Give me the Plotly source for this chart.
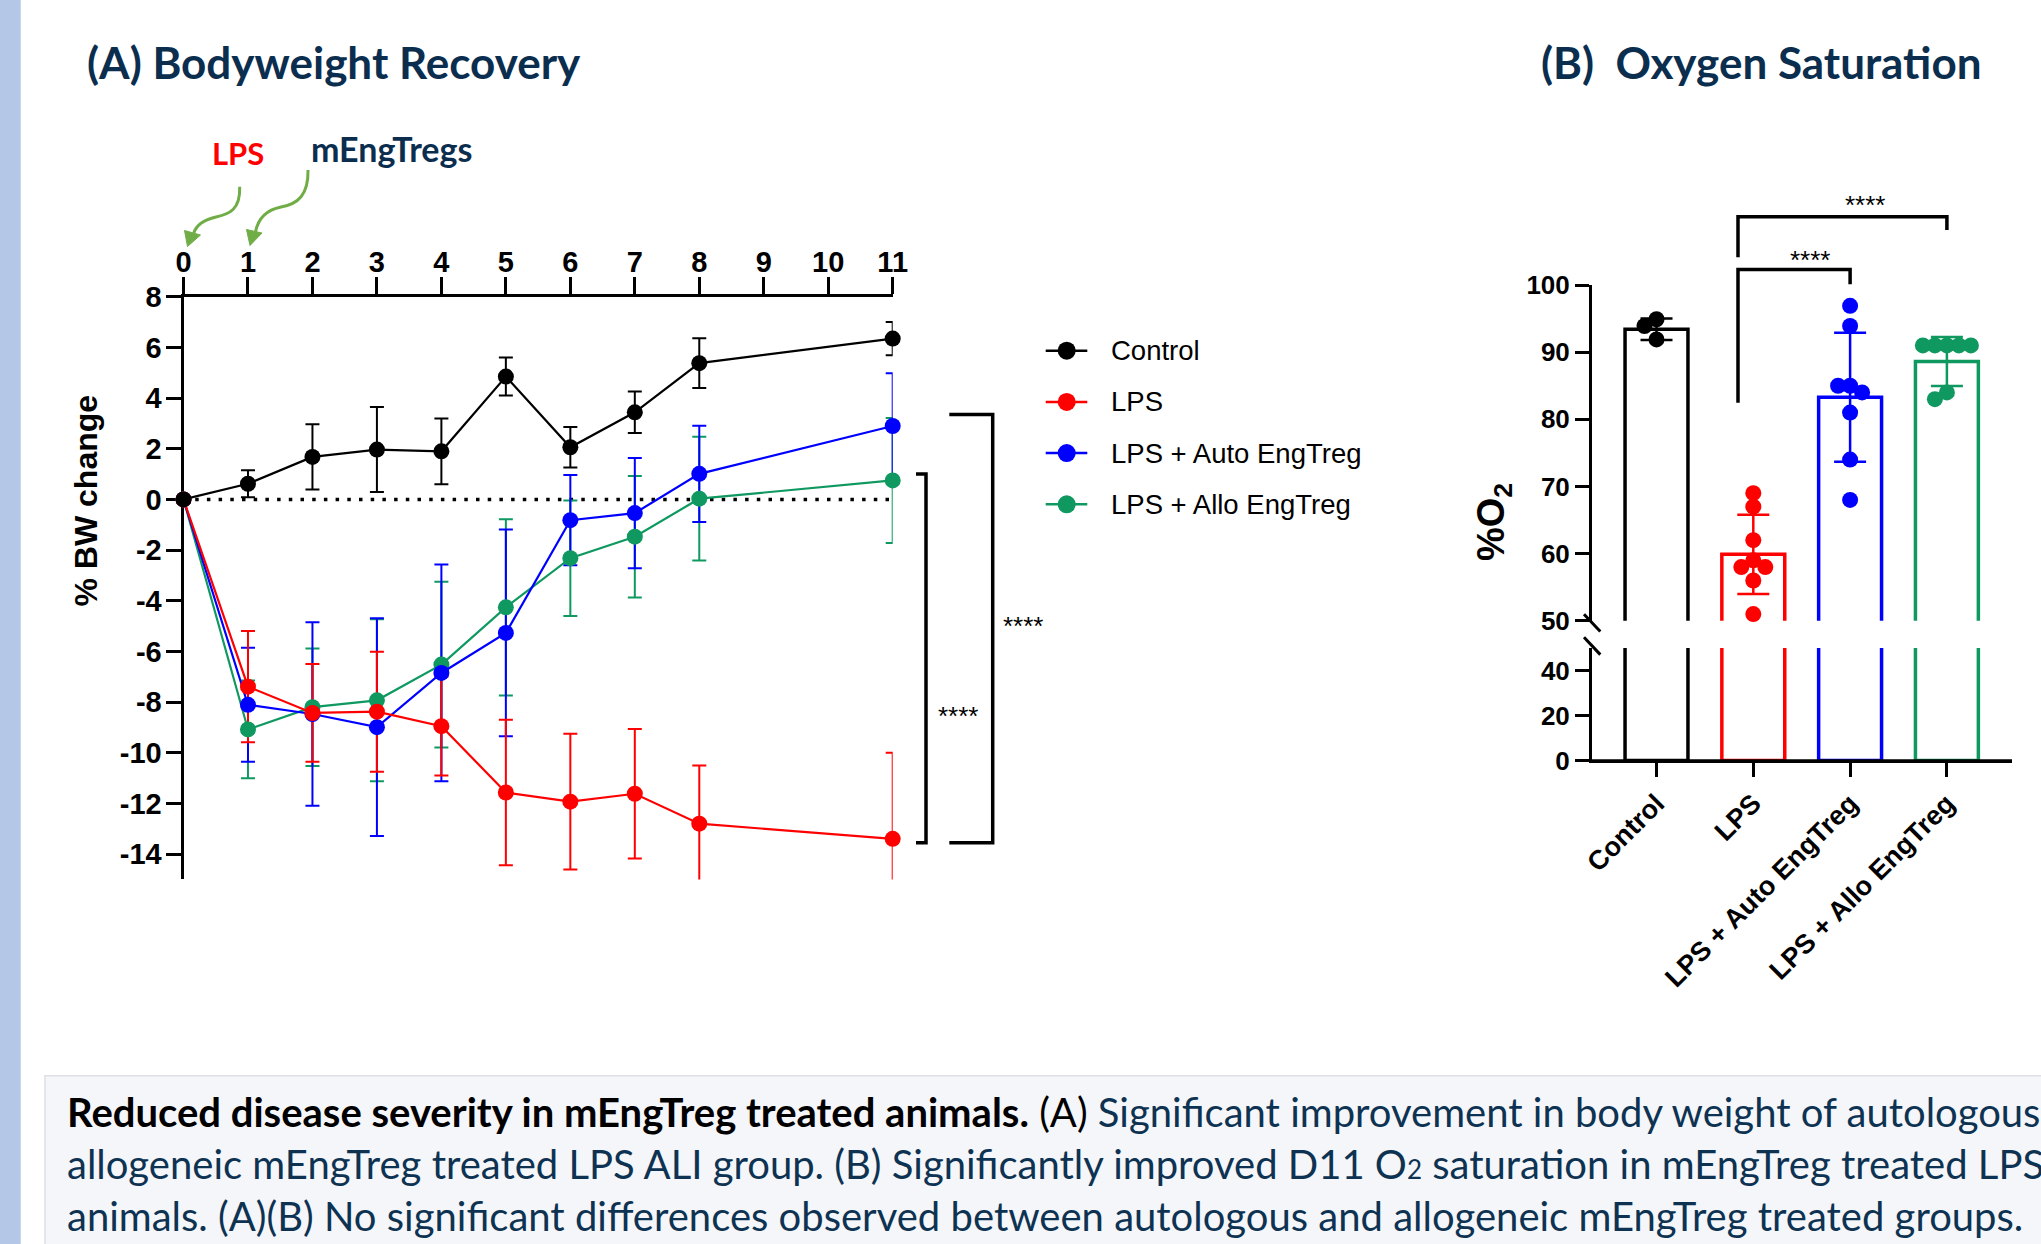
import numpy as np
import plotly.graph_objects as go

W, H = 2041, 1244

# ---------------- Panel A data: % bodyweight change ----------------
days = [0, 1, 2, 3, 4, 5, 6, 7, 8, 11]
control_mean = [0, 0.62, 1.68, 1.97, 1.90, 4.85, 2.06, 3.44, 5.38, 6.35]
control_sd = [0, 0.53, 1.29, 1.68, 1.30, 0.75, 0.80, 0.82, 0.98, 0.66]
lps_mean = [0, -7.39, -8.43, -8.38, -8.95, -11.57, -11.93, -11.62, -12.80, -13.40]
lps_sd = [0, 2.20, 1.93, 2.37, 1.95, 2.87, 2.68, 2.56, 2.30, 3.40]
auto_mean = [0, -8.11, -8.47, -8.99, -6.85, -5.27, -0.82, -0.54, 1.01, 2.90]
auto_sd = [0, 2.25, 3.62, 4.30, 4.28, 4.08, 1.78, 2.18, 1.90, 2.08]
allo_mean = [0, -9.08, -8.20, -7.93, -6.52, -4.26, -2.32, -1.47, 0.03, 0.75]
allo_sd = [0, 1.93, 2.32, 3.20, 3.27, 3.48, 2.28, 2.40, 2.44, 2.47]

series_names = ["Control", "LPS", "LPS + Auto EngTreg", "LPS + Allo EngTreg"]
series_colors = ["#000000", "#FF0000", "#0000FF", "#0F9960"]
bw_xticks = list(range(0, 12))
bw_yticks = list(range(8, -15, -2))

# ---------------- Panel B data: D11 O2 saturation ----------------
groups = ["Control", "LPS", "LPS + Auto EngTreg", "LPS + Allo EngTreg"]
o2_mean = [93.4, 59.9, 83.3, 88.6]
o2_sd = [1.6, 5.9, 9.6, 3.65]
o2_points = [
    [94.9, 93.9, 91.9],
    [69, 67, 62, 59, 58, 58, 56, 51],
    [96.9, 93.9, 85, 85, 84, 81, 74, 68],
    [91, 91, 91, 91, 91, 84, 83],
]
o2_ticks_upper = [50, 60, 70, 80, 90, 100]
o2_ticks_lower = [0, 20, 40]

ARIAL = "Liberation Sans, Arial, sans-serif"
LATO = "Lato, Carlito, Calibri, sans-serif"
NAVY = "#0B2E4F"
CAPNAVY = "#0E3352"


def px(x):
    return x / W


def py(y):
    return 1 - y / H


# ---------------- geometry (pixels) ----------------
A_X0, A_X1 = 183.5, 892.7          # day 0 .. day 11
A_YTOP = 296.8                      # value 8
A_PPU = 25.33                       # px per % unit
A_YMIN, A_YMAX = -15.0, 8
A_YBOT = A_YTOP + (A_YMAX - A_YMIN) * A_PPU
A_PPX = (A_X1 - A_X0) / (bw_xticks[-1] - bw_xticks[0])
PAD = 30

B_X0, B_X1 = 1592.0, 2012.0
B_CAT = 96.8                        # px per category
B_XR0 = -(1656.5 - B_X0) / B_CAT
B_XR1 = B_XR0 + (B_X1 - B_X0) / B_CAT
B_UP_TOP, B_UP_BOT = 285.0, 620.8   # 100 .. 50
B_LO_TOP, B_LO_BOT = 648.0, 760.4   # 50 .. 0
B_UP_PPU = (B_UP_BOT - B_UP_TOP) / 50.0


def swarm(values, ppu_y, step=6.0, mind=12.0):
    """Simple beeswarm: horizontal pixel offsets so dots do not overlap too much."""
    placed = []
    offs = []
    for v in values:
        cands = [0.0]
        for j in range(1, 12):
            cands += [-j * step, j * step]
        for dx in cands:
            ok = True
            for (pv, pdx) in placed:
                dy = (v - pv) * ppu_y
                if (dx - pdx) ** 2 + dy ** 2 < mind ** 2 - 1e-6:
                    ok = False
                    break
            if ok:
                break
        placed.append((v, dx))
        offs.append(dx)
    return offs


fig = go.Figure()

means = [control_mean, lps_mean, auto_mean, allo_mean]
sds = [control_sd, lps_sd, auto_sd, allo_sd]
for i in [3, 2, 1, 0]:
    c = series_colors[i]
    fig.add_trace(go.Scatter(
        x=days, y=means[i], mode="markers", xaxis="x", yaxis="y",
        marker=dict(size=2, color=c, opacity=0),
        error_y=dict(type="data", array=sds[i], color=c, thickness=2, width=7),
        showlegend=False, hoverinfo="skip"))
    fig.add_trace(go.Scatter(
        x=days, y=means[i], mode="lines+markers", xaxis="x4", yaxis="y4",
        name=series_names[i], line=dict(color=c, width=2.2),
        marker=dict(size=16, color=c), showlegend=False))

# Panel B bars (split axis) and dots
for i, g in enumerate(groups):
    c = series_colors[i]
    for ya, err in (("y2", True), ("y3", False)):
        fig.add_trace(go.Bar(
            x=[i], y=[o2_mean[i]], width=0.65, xaxis="x2", yaxis=ya, name=g,
            marker=dict(color="rgba(0,0,0,0)", line=dict(color=c, width=3.5)),
            error_y=(dict(type="data", array=[o2_sd[i]], color=c, thickness=2.5, width=16)
                     if err else dict(visible=False)),
            showlegend=False))
    offs = swarm(o2_points[i], B_UP_PPU)
    fig.add_trace(go.Scatter(
        x=[i + o / B_CAT for o in offs], y=o2_points[i], mode="markers",
        xaxis="x2", yaxis="y2", marker=dict(size=16, color=c),
        cliponaxis=False, showlegend=False, name=g))

tickfont = dict(family=ARIAL, size=29, color="black", weight="bold")
axis_common = dict(showgrid=False, zeroline=False, showline=True, linecolor="black",
                   linewidth=3, ticks="outside", tickcolor="black", tickwidth=3,
                   automargin=False)

fig.update_layout(
    width=W, height=H, margin=dict(l=0, r=0, t=0, b=0, pad=0, autoexpand=False),
    paper_bgcolor="white", plot_bgcolor="rgba(0,0,0,0)", barmode="overlay",
    xaxis=dict(domain=[px(A_X0), px(A_X1)], range=[bw_xticks[0], bw_xticks[-1]], side="top",
               anchor="y", tickvals=bw_xticks, ticklen=17, tickfont=tickfont,
               ticklabelstandoff=-7, **axis_common),
    yaxis=dict(domain=[py(A_YBOT), py(A_YTOP)], range=[A_YMIN, A_YMAX], anchor="x",
               tickvals=bw_yticks, ticktext=[str(v) for v in bw_yticks], ticklen=15,
               tickfont=tickfont, ticklabelstandoff=-2, **axis_common),
    xaxis4=dict(domain=[px(A_X0 - PAD), px(A_X1 + PAD)],
                range=[bw_xticks[0] - PAD / A_PPX, bw_xticks[-1] + PAD / A_PPX],
                visible=False, anchor="y4", automargin=False),
    yaxis4=dict(domain=[py(A_YBOT + PAD), py(A_YTOP - PAD)],
                range=[A_YMIN - PAD / A_PPU, A_YMAX + PAD / A_PPU],
                visible=False, anchor="x4", automargin=False),
    xaxis2=dict(domain=[px(B_X0), px(B_X1)], range=[B_XR0, B_XR1], anchor="y3",
                tickvals=list(range(len(groups))), ticktext=groups, tickangle=-45,
                ticklen=13.5, tickfont=dict(family=ARIAL, size=27, color="black", weight="bold"),
                **axis_common),
    yaxis2=dict(domain=[py(B_UP_BOT), py(B_UP_TOP)], range=[50, 100], anchor="x2",
                tickvals=o2_ticks_upper, ticklen=14,
                tickfont=dict(family=ARIAL, size=26, color="black", weight="bold"), **axis_common),
    yaxis3=dict(domain=[py(B_LO_BOT), py(B_LO_TOP)], range=[0, 50], anchor="x2",
                tickvals=o2_ticks_lower, ticklen=14,
                tickfont=dict(family=ARIAL, size=26, color="black", weight="bold"), **axis_common),
)

shapes = []
# left accent bar and caption box
shapes.append(dict(type="rect", xref="paper", yref="paper", x0=0, x1=px(20.7), y0=0, y1=1,
                   fillcolor="#B4C7E7", line=dict(width=0), layer="below"))
shapes.append(dict(type="rect", xref="paper", yref="paper", x0=px(45), x1=1.05, y0=-0.05,
                   y1=py(1075.7), fillcolor="#F5F6FA", line=dict(color="#DDE0E5", width=1.5),
                   layer="below"))
# dotted zero line
shapes.append(dict(type="line", xref="x", yref="y", x0=days[0], x1=bw_xticks[-1], y0=0, y1=0,
                   line=dict(color="black", width=3.5, dash="3.5px,8.2px"), layer="below"))


def ppath(points):
    s = ""
    for (cmd, x, y) in points:
        s += f"{cmd}{px(x):.5f},{py(y):.5f} "
    return s.strip()


def bracket_v(xv, xs, ytop, ybot, w=3.5):
    return dict(type="path", xref="paper", yref="paper",
                path=ppath([("M", xs, ytop), ("L", xv, ytop), ("L", xv, ybot), ("L", xs, ybot)]),
                line=dict(color="black", width=w))


def ypix_a(v):
    return A_YTOP + (A_YMAX - v) * A_PPU


bot = ypix_a(lps_mean[-1] - 0.15)
shapes.append(bracket_v(926.0, 916.0, ypix_a(allo_mean[-1] + 0.25), bot))
shapes.append(bracket_v(992.7, 949.3, ypix_a(auto_mean[-1] + 0.45), bot))


def bracket_h(xl, xr, ybar, yl, yr, w=3.5):
    return dict(type="path", xref="paper", yref="paper",
                path=ppath([("M", xl, yl), ("L", xl, ybar), ("L", xr, ybar), ("L", xr, yr)]),
                line=dict(color="black", width=w))


def xpix_b(cat):
    return 1656.5 + cat * B_CAT


shapes.append(bracket_h(1738.0, xpix_b(2), 269.5, 402.7, 284.3))
shapes.append(bracket_h(1738.0, xpix_b(3), 216.7, 257.3, 230.0))

# cover bar bottoms with the axis colour at zero
shapes.append(dict(type="line", xref="paper", yref="paper", x0=px(B_X0), x1=px(B_X1),
                   y0=py(B_LO_BOT + 0.5), y1=py(B_LO_BOT + 0.5), line=dict(color="black", width=3.5)))

# axis break marks
for (y0, y1) in ((614.2, 631.5), (637.3, 654.6)):
    shapes.append(dict(type="line", xref="paper", yref="paper", x0=px(1584), x1=px(1600.3),
                       y0=py(y0), y1=py(y1), line=dict(color="black", width=3)))

# green curved arrows
GREEN = "#70AD47"
shapes.append(dict(type="path", xref="paper", yref="paper",
                   path=ppath([("M", 239.7, 186.7), ("C", 240.5, 210), ("", 229, 214), ("", 216, 217),
                               ("C", 203, 220), ("", 196, 226), ("", 193.8, 233)]),
                   line=dict(color=GREEN, width=3)))
shapes.append(dict(type="path", xref="paper", yref="paper",
                   path=ppath([("M", 187.5, 246.5), ("L", 184.5, 230.5), ("L", 200.5, 235), ("Z", 187.5, 246.5)]),
                   fillcolor=GREEN, line=dict(color=GREEN, width=1)))
shapes.append(dict(type="path", xref="paper", yref="paper",
                   path=ppath([("M", 308, 170), ("C", 308.5, 195), ("", 298, 204), ("", 281, 207),
                               ("C", 266, 210), ("", 258, 219), ("", 255.5, 232)]),
                   line=dict(color=GREEN, width=3)))
shapes.append(dict(type="path", xref="paper", yref="paper",
                   path=ppath([("M", 250, 245.5), ("L", 246.5, 229.5), ("L", 262, 233), ("Z", 250, 245.5)]),
                   fillcolor=GREEN, line=dict(color=GREEN, width=1)))

# custom legend (line + dot)
LEG_Y0, LEG_DY = 350.7, 51.2
for i, name in enumerate(series_names):
    yy = LEG_Y0 + i * LEG_DY
    shapes.append(dict(type="line", xref="paper", yref="paper", x0=px(1045.7), x1=px(1087.3),
                       y0=py(yy), y1=py(yy), line=dict(color=series_colors[i], width=2.5)))
    shapes.append(dict(type="circle", xref="paper", yref="paper", xsizemode="pixel",
                       ysizemode="pixel", xanchor=px(1066.7), yanchor=py(yy), x0=-9, x1=9,
                       y0=-9, y1=9, fillcolor=series_colors[i], line=dict(width=0)))

fig.update_layout(shapes=shapes)


def label(text, x, y, size, color="black", family=ARIAL, weight="normal",
          xanchor="center", yanchor="middle", angle=0):
    return dict(text=text, x=px(x), y=py(y), xref="paper", yref="paper", showarrow=False,
                font=dict(family=family, size=size, color=color, weight=weight),
                xanchor=xanchor, yanchor=yanchor, textangle=angle)


ann = [
    label("(A) Bodyweight Recovery", 84.8, 62, 44, NAVY, LATO, "bold", xanchor="left"),
    label("(B)\u00a0 Oxygen Saturation", 1539, 62, 44, NAVY, LATO, "bold", xanchor="left"),
    label("LPS", 238.4, 153, 31, "#FF0000", LATO, "bold"),
    label("mEngTregs", 391, 149, 34, NAVY, LATO, "bold"),
    label("% BW change", 85, 500.5, 32, weight="bold", angle=-90),
    label("%O<sub>2</sub>", 1494, 522, 38, weight="bold", angle=-90),
    label("****", 958.3, 716, 26),
    label("****", 1023.3, 626, 26),
    label("****", 1809.7, 259.5, 26),
    label("****", 1865.0, 204.5, 26),
]
for i, name in enumerate(series_names):
    ann.append(label(name, 1109, LEG_Y0 + i * LEG_DY, 27.5, xanchor="left"))

cap1 = ("<b>Reduced disease severity in mEngTreg treated animals.</b> (A) "
        f"<span style='color:{CAPNAVY}'>Significant improvement in body weight of autologous and</span>")
cap2 = ("allogeneic mEngTreg treated LPS ALI group. (B) Significantly improved D11 "
        "O<span style='font-size:26px'>2</span> saturation in mEngTreg treated LPS ALI")
cap3 = ("animals. (A)(B) No significant differences observed between autologous and "
        "allogeneic mEngTreg treated groups.")
ann.append(label(cap1, 65, 1111.5, 40, "black", LATO, xanchor="left"))
ann.append(label(cap2, 65, 1163.5, 40, CAPNAVY, LATO, xanchor="left"))
ann.append(label(cap3, 65, 1215.5, 40, CAPNAVY, LATO, xanchor="left"))

fig.update_layout(annotations=ann)

post = ("document.documentElement.style.margin='0px';document.body.style.margin='0px';"
        "document.documentElement.style.overflow='hidden';document.body.style.overflow='hidden';"
        "var d=document.getElementById('{plot_id}');d.style.position='fixed';"
        "d.style.left='0px';d.style.top='0px';")
fig.write_html("out.html", config={"displayModeBar": False}, post_script=post)
